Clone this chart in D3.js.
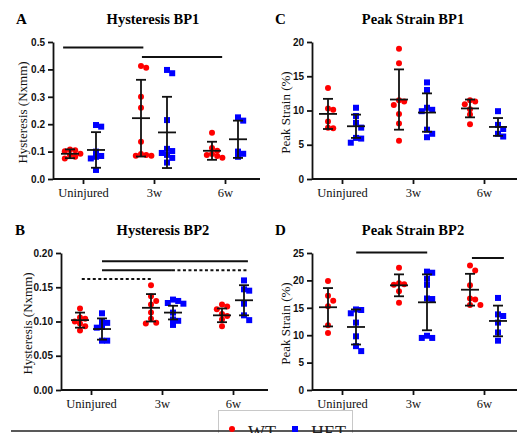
<!DOCTYPE html>
<html>
<head>
<meta charset="utf-8">
<script src="https://cdn.jsdelivr.net/npm/d3@7"></script>
<style>
  body { margin: 0; background: #fff; }
  svg { display: block; }
</style>
</head>
<body>
<div id="chart"></div>
<script>
const categories = ['Uninjured', '3w', '6w'];
const genotypes = ['WT', 'HET'];

// A: Hysteresis BP1 (N x mm)
const hystBP1WT = [
  [0.108, 0.105, 0.101, 0.092, 0.088, 0.081, 0.075],
  [0.412, 0.406, 0.300, 0.260, 0.136, 0.091, 0.088, 0.085, 0.085],
  [0.169, 0.113, 0.103, 0.091, 0.088, 0.084, 0.078]
];
const hystBP1HET = [
  [0.197, 0.191, 0.100, 0.084, 0.081, 0.075, 0.033],
  [0.398, 0.386, 0.215, 0.110, 0.102, 0.095, 0.088, 0.077, 0.060],
  [0.225, 0.213, 0.100, 0.092, 0.081]
];
const hystBP1Mean = { WT: [0.092, 0.222, 0.103], HET: [0.106, 0.170, 0.145] };
const hystBP1SD = { WT: [0.016, 0.140, 0.033], HET: [0.065, 0.130, 0.068] };
// bars: start / end in category units, height in data units
const hystBP1Bars = [
  { from: -0.28, to: 0.85, value: 0.480, dashed: false },
  { from: 0.83, to: 1.96, value: 0.445, dashed: false }
];

// B: Hysteresis BP2 (N x mm)
const hystBP2WT = [
  [0.119, 0.106, 0.104, 0.100, 0.097, 0.093, 0.087],
  [0.153, 0.137, 0.130, 0.125, 0.113, 0.104, 0.098, 0.097],
  [0.125, 0.122, 0.118, 0.111, 0.108, 0.103, 0.093]
];
const hystBP2HET = [
  [0.112, 0.100, 0.098, 0.092, 0.091, 0.072, 0.072],
  [0.132, 0.130, 0.127, 0.126, 0.113, 0.103, 0.101, 0.095],
  [0.160, 0.147, 0.145, 0.126, 0.109, 0.102]
];
const hystBP2Mean = { WT: [0.102, 0.120, 0.109], HET: [0.089, 0.113, 0.131] };
const hystBP2SD = { WT: [0.011, 0.020, 0.010], HET: [0.0155, 0.010, 0.022] };
const hystBP2Bars = [
  { from: 0.155, to: 2.21, value: 0.188, dashed: false },
  { from: 0.155, to: 1.14, value: 0.175, dashed: false },
  { from: 1.14, to: 2.20, value: 0.175, dashed: true },
  { from: -0.13, to: 0.86, value: 0.162, dashed: true }
];

// C: Peak Strain BP1 (%)
const strainBP1WT = [
  [13.3, 10.3, 10.1, 8.4, 7.5, 7.4],
  [19.0, 16.9, 11.5, 11.3, 10.8, 9.5, 8.1, 5.6],
  [11.5, 11.3, 10.9, 10.2, 9.4, 8.0]
];
const strainBP1HET = [
  [10.4, 9.2, 8.2, 7.5, 6.0, 5.9, 5.3],
  [14.1, 13.0, 10.4, 10.1, 9.9, 7.2, 6.6, 6.1],
  [9.9, 7.9, 7.3, 6.6, 6.2]
];
const strainBP1Mean = { WT: [9.5, 11.6, 10.3], HET: [7.7, 9.7, 7.6] };
const strainBP1SD = { WT: [2.2, 4.4, 1.3], HET: [1.7, 2.8, 1.3] };
const strainBP1Bars = [];

// D: Peak Strain BP2 (%)
const strainBP2WT = [
  [19.9, 17.2, 16.3, 15.3, 11.8, 10.4],
  [22.3, 19.5, 19.3, 19.2, 18.0, 15.9],
  [22.7, 21.8, 19.1, 16.7, 16.5, 15.5, 15.5]
];
const strainBP2HET = [
  [14.7, 14.6, 14.0, 12.3, 9.8, 8.0, 7.1],
  [21.6, 21.4, 20.3, 19.2, 16.7, 16.6, 9.9, 9.5, 9.5],
  [16.8, 13.8, 13.5, 12.3, 10.5, 9.0]
];
const strainBP2Mean = { WT: [15.1, 19.1, 18.3], HET: [11.5, 16.0, 12.6] };
const strainBP2SD = { WT: [3.5, 2.0, 2.9], HET: [3.2, 5.1, 2.8] };
const strainBP2Bars = [
  { from: 0.2, to: 1.2, value: 25.1, dashed: false },
  { from: 1.83, to: 2.28, value: 24.1, dashed: false }
];

const WIDTH = 517, HEIGHT = 433;
const RED = '#ff0000', BLUE = '#0000ff';
const SERIF = '"Liberation Serif", "Times New Roman", serif';
const SANS = '"Liberation Sans", Arial, sans-serif';

const svg = d3.select('#chart').append('svg')
  .attr('width', WIDTH).attr('height', HEIGHT);

// spread points sideways where they would overlap (like a scatter dot plot)
function swarm(values, cx, y, gap) {
  const placed = [];
  values.forEach(v => {
    const py = y(v);
    let k = 0, px = cx;
    while (true) {
      const step = Math.ceil(k / 2) * (k % 2 ? 1 : -1);
      px = cx + step * gap;
      if (!placed.some(p => Math.hypot(p.x - px, p.y - py) < gap)) break;
      k++;
    }
    placed.push({ x: px, y: py, v: v });
  });
  return placed;
}

function drawPanel(p) {
  const g = svg.append('g');
  const y = d3.scaleLinear().domain([0, p.max]).range([p.bottom, p.top]);
  const x = d3.scalePoint().domain(categories).range([p.left + 30, p.left + 172]);
  const sub = d3.scalePoint().domain(genotypes).range([-p.off, p.off]);
  const catUnit = d3.scaleLinear().domain([0, 2]).range(x.range());

  // letter + title
  g.append('text').text(p.letter)
    .attr('x', p.letterX).attr('y', p.top - 18)
    .attr('font-family', SERIF).attr('font-weight', 'bold').attr('font-size', '15px');
  g.append('text').text(p.title)
    .attr('x', p.titleX).attr('y', p.top - 18)
    .attr('text-anchor', 'middle')
    .attr('font-family', SERIF).attr('font-weight', 'bold').attr('font-size', '14.5px');

  // y axis
  const yAxis = d3.axisLeft(y)
    .tickValues(d3.range(0, p.max + p.step / 2, p.step))
    .tickFormat(d3.format(p.fmt))
    .tickSize(5).tickSizeOuter(0).tickPadding(3);
  const ya = g.append('g').attr('transform', `translate(${p.left},0)`).call(yAxis);
  ya.selectAll('path, line').attr('stroke', '#111').attr('stroke-width', 1.8);
  ya.selectAll('text').attr('font-family', SANS).attr('font-weight', 'bold')
    .attr('font-size', '10px').attr('fill', '#111');

  g.append('text').text(p.ylabel)
    .attr('transform', `translate(${p.left - p.ylabelOff},${(p.top + p.bottom) / 2 + 2}) rotate(-90)`)
    .attr('text-anchor', 'middle').attr('dominant-baseline', 'central')
    .attr('font-family', SERIF).attr('font-size', '13px').attr('fill', '#111');

  // x axis
  g.append('line')
    .attr('x1', p.left).attr('x2', p.right)
    .attr('y1', p.bottom).attr('y2', p.bottom)
    .attr('stroke', '#111').attr('stroke-width', 1.8);
  const xa = g.append('g').attr('transform', `translate(0,${p.bottom})`)
    .call(d3.axisBottom(x).tickSize(5));
  xa.select('.domain').remove();
  xa.selectAll('line').attr('stroke', '#111').attr('stroke-width', 1.8);
  xa.selectAll('text').attr('y', 18).attr('dy', null)
    .attr('font-family', SERIF).attr('font-size', '12.5px').attr('fill', '#111');

  // points
  genotypes.forEach(gt => {
    p.data[gt].forEach((vals, i) => {
      const cx = x(categories[i]) + sub(gt);
      const sorted = vals.slice().sort((a, b) => b - a);
      const pts = swarm(sorted, cx, y, 5.2);
      if (gt === 'WT') {
        g.selectAll(null).data(pts).enter().append('circle')
          .attr('cx', d => d.x).attr('cy', d => d.y).attr('r', 3)
          .attr('fill', RED);
      } else {
        g.selectAll(null).data(pts).enter().append('rect')
          .attr('x', d => d.x - 3).attr('y', d => d.y - 3)
          .attr('width', 6).attr('height', 6)
          .attr('fill', BLUE);
      }
    });
  });

  // mean +/- SD
  genotypes.forEach(gt => {
    categories.forEach((c, i) => {
      const cx = x(c) + sub(gt);
      const m = p.mean[gt][i], s = p.sd[gt][i];
      const bar = g.append('g').attr('stroke', '#111').attr('stroke-width', 1.8);
      bar.append('line').attr('x1', cx).attr('x2', cx).attr('y1', y(m + s)).attr('y2', y(m - s));
      bar.append('line').attr('x1', cx - 9).attr('x2', cx + 9).attr('y1', y(m)).attr('y2', y(m));
      [m + s, m - s].forEach(v => {
        bar.append('line').attr('x1', cx - 5).attr('x2', cx + 5).attr('y1', y(v)).attr('y2', y(v));
      });
    });
  });

  // comparison lines
  p.bars.forEach(b => {
    g.append('line')
      .attr('x1', catUnit(b.from)).attr('x2', catUnit(b.to))
      .attr('y1', y(b.value)).attr('y2', y(b.value))
      .attr('stroke', '#111').attr('stroke-width', 2)
      .attr('stroke-dasharray', b.dashed ? '3,2.5' : null);
  });
}

drawPanel({
  letter: 'A', letterX: 16, title: 'Hysteresis BP1', titleX: 153,
  left: 53, right: 260, top: 42, bottom: 179, off: 13,
  max: 0.5, step: 0.1, fmt: '.1f', ylabel: 'Hysteresis (Nxmm)', ylabelOff: 31,
  data: { WT: hystBP1WT, HET: hystBP1HET }, mean: hystBP1Mean, sd: hystBP1SD, bars: hystBP1Bars
});
drawPanel({
  letter: 'C', letterX: 275, title: 'Peak Strain BP1', titleX: 413,
  left: 312, right: 517, top: 42, bottom: 179, off: 14,
  max: 20, step: 5, fmt: 'd', ylabel: 'Peak Strain (%)', ylabelOff: 27,
  data: { WT: strainBP1WT, HET: strainBP1HET }, mean: strainBP1Mean, sd: strainBP1SD, bars: strainBP1Bars
});
drawPanel({
  letter: 'B', letterX: 15, title: 'Hysteresis BP2', titleX: 163,
  left: 61, right: 268, top: 253, bottom: 390, off: 11,
  max: 0.2, step: 0.05, fmt: '.2f', ylabel: 'Hysteresis (Nxmm)', ylabelOff: 34,
  data: { WT: hystBP2WT, HET: hystBP2HET }, mean: hystBP2Mean, sd: hystBP2SD, bars: hystBP2Bars
});
drawPanel({
  letter: 'D', letterX: 275, title: 'Peak Strain BP2', titleX: 413,
  left: 312, right: 517, top: 253, bottom: 390, off: 14,
  max: 25, step: 5, fmt: 'd', ylabel: 'Peak Strain (%)', ylabelOff: 27,
  data: { WT: strainBP2WT, HET: strainBP2HET }, mean: strainBP2Mean, sd: strainBP2SD, bars: strainBP2Bars
});

// legend box and the rule cutting across the bottom
svg.append('rect')
  .attr('x', 218.5).attr('y', 410.5).attr('width', 134).attr('height', 40)
  .attr('fill', '#fff').attr('stroke', '#c8c8c8').attr('stroke-width', 1);
svg.append('line')
  .attr('x1', 11).attr('x2', WIDTH).attr('y1', 431).attr('y2', 431)
  .attr('stroke', '#222').attr('stroke-width', 1.5);

const legend = svg.append('g').attr('transform', 'translate(232,429)');
legend.append('circle').attr('r', 3).attr('fill', RED);
legend.append('text').text('WT').attr('x', 16).attr('y', 10)
  .attr('font-family', SERIF).attr('font-size', '18px').attr('fill', '#222');
legend.append('rect').attr('x', 60).attr('y', -3).attr('width', 6).attr('height', 6).attr('fill', BLUE);
legend.append('text').text('HET').attr('x', 79).attr('y', 10)
  .attr('font-family', SERIF).attr('font-size', '18px').attr('fill', '#222');
</script>
</body>
</html>
